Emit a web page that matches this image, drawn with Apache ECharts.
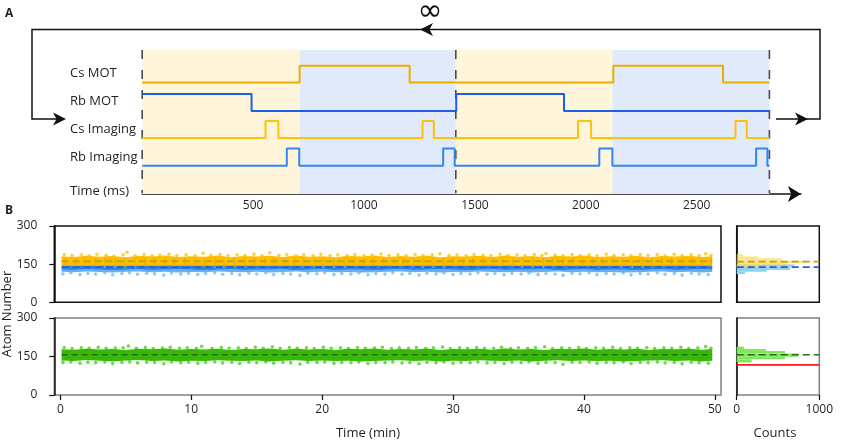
<!DOCTYPE html>
<html><head><meta charset="utf-8">
<script src="https://cdn.jsdelivr.net/npm/echarts@6/dist/echarts.min.js"></script>
<style>html,body{margin:0;padding:0;background:#fff}#c{width:842px;height:444px}</style>
</head><body><div id="c"></div>
<script>
// ---------------- Panel A data (ms) ----------------
const timeTicks = [500, 1000, 1500, 2000, 2500];
const cycleBounds = [0, 1414, 2828];
const phaseStart = [0, 710, 1414, 2121];
const phaseEnd = [710, 1414, 2121, 2828];
const phaseKind = ['cs', 'rb', 'cs', 'rb'];
const csMotT = [0, 710, 1206, 2124, 2619, 2828];
const csMotS = [0, 1, 0, 1, 0, 0];
const rbMotT = [0, 493, 1416, 1902, 2828];
const rbMotS = [1, 0, 1, 0, 0];
const csImgT = [0, 556, 614, 1264, 1315, 1965, 2024, 2675, 2726, 2828];
const csImgS = [0, 1, 0, 1, 0, 1, 0, 1, 0, 0];
const rbImgT = [0, 652, 708, 1357, 1409, 2061, 2120, 2768, 2819, 2828];
const rbImgS = [0, 1, 0, 1, 0, 1, 0, 1, 0, 0];
const laneNames = ['Cs MOT', 'Rb MOT', 'Cs Imaging', 'Rb Imaging', 'Time (ms)'];

// ---------------- Panel B data ----------------
const minTicks = [0, 10, 20, 30, 40, 50];
const atomTicks = [0, 150, 300];
const countTicks = [0, 1000];
const envT = [0.1,1,2,3,4,5,6,7,8,9,10,11,12,13,14,15,16,17,18,19,20,21,22,23,24,25,26,27,28,29,30,31,32,33,34,35,36,37,38,39,40,41,42,43,44,45,46,47,48,49,49.8];
const csTop = [181,178,183,179,182,177,183,180,184,178,181,179,184,177,182,180,183,178,184,179,181,177,183,180,184,178,182,179,184,177,181,180,183,178,184,179,182,177,183,180,184,178,181,179,183,177,182,180,183,178,181];
const csBot = [145,145,145,145,145,145,145,145,145,145,145,145,145,145,145,145,145,145,145,145,145,145,145,145,145,145,145,145,145,145,145,145,145,145,145,145,145,145,145,145,145,145,145,145,145,145,145,145,145,145,145];
const rbTop = csBot;
const rbMid = [128,127,129,128,126,128,129,127,128,129,128,126,128,129,127,128,128,129,126,128,129,127,128,128,126,128,129,127,128,129,128,126,128,129,127,128,128,129,126,128,129,127,128,128,126,128,129,127,128,129,128];
const rbBot = [120,118,121,119,117,120,121,118,120,117,119,118,121,119,118,120,117,119,121,118,120,118,119,117,118,120,121,118,120,117,119,118,121,119,118,120,117,119,121,118,120,118,119,117,118,120,121,118,120,117,119];
const grTop = [178,176,180,177,179,175,180,178,181,176,179,177,180,175,179,178,181,176,180,177,179,175,180,178,181,176,179,177,181,175,179,178,180,176,181,177,179,175,180,178,181,176,179,177,180,175,179,178,180,176,179];
const grBot = [134,132,136,133,131,134,136,132,134,131,133,132,135,133,132,134,131,133,135,132,134,132,133,131,132,134,135,132,134,131,133,132,135,133,132,134,131,133,135,132,134,132,133,131,132,134,135,132,134,131,133];
const csOut = [[0.3,188],[0.9,184],[1.6,187],[2.2,183],[2.8,189],[3.5,185],[4.1,182],[4.8,187],[5.1,197],[5.7,184],[6.4,188],[7.0,183],[7.6,186],[8.3,189],[8.9,184],[9.6,187],[10.3,183],[10.9,193],[11.5,185],[12.2,188],[12.8,183],[13.5,187],[14.1,184],[14.8,189],[15.4,183],[16.0,195],[16.7,185],[17.3,188],[18.0,183],[18.6,187],[19.3,184],[19.9,189],[20.6,183],[21.2,187],[21.9,184],[22.5,188],[23.2,183],[23.8,186],[24.5,190],[25.1,184],[25.8,187],[26.4,183],[27.1,188],[27.7,184],[28.4,187],[29.0,191],[29.7,184],[30.3,187],[31.0,183],[31.6,188],[32.3,185],[32.9,183],[33.6,189],[34.2,184],[34.9,187],[35.5,183],[36.2,188],[36.8,184],[37.1,192],[37.8,185],[38.4,183],[39.1,188],[39.7,184],[40.4,187],[41.0,183],[41.7,189],[42.3,184],[43.0,187],[43.6,183],[44.3,188],[44.9,184],[45.6,187],[46.2,183],[46.9,189],[47.5,184],[48.2,187],[48.8,183],[49.3,191],[49.7,185]];
const rbOut = [[0.2,112],[0.8,116],[1.5,109],[2.1,114],[2.7,111],[3.4,116],[4.0,108],[4.7,113],[5.3,116],[5.9,110],[6.6,114],[7.2,112],[7.9,107],[8.5,115],[9.2,111],[9.8,114],[10.5,109],[11.1,113],[11.8,116],[12.4,110],[13.1,113],[13.7,108],[14.4,114],[15.0,111],[15.7,116],[16.3,109],[17.0,113],[17.6,111],[18.3,106],[18.9,114],[19.6,112],[20.2,116],[20.9,109],[21.5,113],[22.2,111],[22.8,115],[23.5,108],[24.1,113],[24.8,111],[25.4,116],[26.1,110],[26.7,113],[27.4,107],[28.0,114],[28.7,111],[29.3,115],[30.0,109],[30.6,113],[31.3,111],[31.9,116],[32.6,110],[33.2,113],[33.9,108],[34.5,114],[35.2,111],[35.8,115],[36.5,109],[37.1,113],[37.8,111],[38.4,106],[39.1,114],[39.7,112],[40.4,116],[41.0,109],[41.7,113],[42.3,111],[43.0,115],[43.6,108],[44.3,113],[44.9,111],[45.6,116],[46.2,110],[46.9,113],[47.5,107],[48.2,114],[48.8,111],[49.5,109]];
const grOutHi = [[0.3,185],[0.9,181],[1.6,184],[2.2,182],[2.9,186],[3.5,182],[4.2,183],[4.8,184],[5.2,191],[5.8,182],[6.5,185],[7.1,181],[7.8,183],[8.4,186],[9.1,182],[9.7,184],[10.4,182],[10.8,190],[11.6,182],[12.3,185],[12.9,182],[13.6,184],[14.2,181],[14.9,186],[15.5,182],[16.2,188],[16.8,182],[17.5,185],[18.1,182],[18.8,184],[19.4,181],[20.1,186],[20.7,182],[21.4,184],[22.0,181],[22.7,185],[23.3,182],[24.0,183],[24.6,186],[25.3,181],[25.9,184],[26.6,182],[27.2,185],[27.9,181],[28.5,184],[29.2,187],[29.8,181],[30.5,184],[31.1,182],[31.8,185],[32.4,182],[33.1,182],[33.7,186],[34.4,181],[35.0,184],[35.7,182],[36.3,185],[37.0,188],[37.6,181],[38.3,184],[38.9,182],[39.6,185],[40.2,181],[40.9,184],[41.5,182],[42.2,186],[42.8,181],[43.5,184],[44.1,182],[44.8,185],[45.4,181],[46.1,184],[46.7,182],[47.4,186],[48.0,181],[48.7,184],[49.3,189],[49.7,182]];
const grOutLo = [[0.2,127],[0.8,129],[1.5,124],[2.1,128],[2.7,126],[3.4,129],[4.0,123],[4.7,127],[5.3,129],[5.9,125],[6.6,128],[7.2,127],[7.9,122],[8.5,129],[9.2,126],[9.8,128],[10.5,124],[11.1,127],[11.8,129],[12.4,125],[13.1,127],[13.7,123],[14.4,128],[15.0,126],[15.7,129],[16.3,124],[17.0,127],[17.6,126],[18.3,121],[18.9,128],[19.6,127],[20.2,129],[20.9,124],[21.5,127],[22.2,126],[22.8,129],[23.5,123],[24.1,127],[24.8,126],[25.4,129],[26.1,125],[26.7,127],[27.4,122],[28.0,128],[28.7,126],[29.3,129],[30.0,124],[30.6,127],[31.3,126],[31.9,129],[32.6,125],[33.2,127],[33.9,123],[34.5,128],[35.2,126],[35.8,129],[36.5,124],[37.1,127],[37.8,126],[38.4,120],[39.1,128],[39.7,127],[40.4,129],[41.0,124],[41.7,127],[42.3,126],[43.0,129],[43.6,123],[44.3,127],[44.9,126],[45.6,129],[46.2,125],[46.9,127],[47.5,122],[48.2,128],[48.8,126],[49.5,124]];
// Cs binned error-bar marks along the mean (time in min; span in atoms)
const csBarT = [0.4,1.2,1.9,2.7,3.4,4.2,4.9,5.7,6.5,7.2,8.0,8.7,9.5,10.3,11.0,11.8,12.5,13.3,14.1,14.8,15.6,16.3,17.1,17.9,18.6,19.4,20.1,20.9,21.7,22.4,23.2,23.9,24.7,25.5,26.2,27.0,27.7,28.5,29.3,30.0,30.8,31.5,32.3,33.1,33.8,34.6,35.3,36.1,36.9,37.6,38.4,39.1,39.9,40.7,41.4,42.2,42.9,43.7,44.5,45.2,46.0,46.7,47.5,48.3,49.0,49.7];
const csBarLo = 135, csBarHi = 174;
const csMean = 161, rbMean = 138, grMean = 157, redLevel = 117;
// histograms: bin low, bin high, counts
const csBinLo = [180, 173, 163, 155, 147, 139];
const csBinHi = [189, 180, 173, 163, 155, 147];
const csCount = [73, 258, 545, 820, 620, 250];
const rbBinLo = [140, 127, 120, 111];
const rbBinHi = [149, 140, 127, 120];
const rbCount = [700, 645, 363, 100];
const grBinLo = [179, 171, 162, 149, 139, 127];
const grBinHi = [188, 179, 171, 162, 149, 139];
const grCount = [88, 355, 585, 745, 585, 181];

// ---------------- styles / layout ----------------
const FONT = 'Open Sans';
const TXT = '#231f20';
const lanes = [
  {low: 32.5, high: 15.7, color: '#e9ae00'},
  {low: 61, high: 44, color: '#1c5fe5'},
  {low: 88, high: 71, color: '#ffc10a'},
  {low: 115.7, high: 98.5, color: '#3186f2'}
];
const laneLabelY = [73.3, 101, 129, 157, 191];
const signals = [[csMotT, csMotS], [rbMotT, rbMotS], [csImgT, csImgS], [rbImgT, rbImgS]];

const chart = echarts.init(document.getElementById('c'), null, {renderer: 'canvas'});

const gridA = {left: 142.2, top: 50, width: 658.7, height: 144};
const grids = [
  gridA,
  {left: 54.3, top: 226, width: 666.7, height: 76.3, show: true, borderColor: '#111', borderWidth: 1.5, backgroundColor: 'transparent'},
  {left: 54.3, top: 318, width: 666.7, height: 77, show: true, borderColor: '#808080', borderWidth: 1.5, backgroundColor: 'transparent'},
  {left: 736.7, top: 226, width: 82.6, height: 76.3, show: true, borderColor: '#111', borderWidth: 1.5, backgroundColor: 'transparent'},
  {left: 736.7, top: 318, width: 82.6, height: 77, show: true, borderColor: '#808080', borderWidth: 1.5, backgroundColor: 'transparent'}
];

const plain = v => String(v);
const lblStyle = {fontFamily: FONT, fontSize: 12, color: TXT, formatter: plain};
const xAxes = [
  {gridIndex: 0, type: 'value', min: 0, max: 2970, position: 'bottom',
    axisLine: {show: true, onZero: false, lineStyle: {color: '#111', width: 1.5}, symbol: ['none', 'arrow'], symbolSize: [12, 13]},
    axisTick: {show: true, inside: true, length: 6, customValues: timeTicks, lineStyle: {color: '#111', width: 1.5}},
    axisLabel: Object.assign({customValues: timeTicks, margin: 6}, lblStyle), splitLine: {show: false}},
  {gridIndex: 1, type: 'value', min: -0.46, max: 50.47, axisLine: {show: false}, axisTick: {show: false}, axisLabel: {show: false}, splitLine: {show: false}},
  {gridIndex: 2, type: 'value', min: -0.46, max: 50.47, position: 'bottom', axisLine: {show: false, onZero: false},
    axisTick: {show: true, length: 5, customValues: minTicks, lineStyle: {color: '#111', width: 1.2}},
    axisLabel: Object.assign({customValues: minTicks, margin: 9}, lblStyle), splitLine: {show: false}},
  {gridIndex: 3, type: 'value', min: 0, max: 1000, axisLine: {show: false}, axisTick: {show: false}, axisLabel: {show: false}, splitLine: {show: false}},
  {gridIndex: 4, type: 'value', min: 0, max: 1000, position: 'bottom', axisLine: {show: false, onZero: false},
    axisTick: {show: true, length: 5, customValues: countTicks, lineStyle: {color: '#111', width: 1.2}},
    axisLabel: Object.assign({customValues: countTicks, margin: 9}, lblStyle), splitLine: {show: false}}
];
const yAtom = (g) => ({gridIndex: g, type: 'value', min: 0, max: 300, position: 'left',
  axisLine: {show: true, onZero: false, lineStyle: {color: '#111', width: 1.5}},
  axisTick: {show: true, length: 5, customValues: atomTicks, lineStyle: {color: '#111', width: 1.2}},
  axisLabel: Object.assign({customValues: atomTicks, margin: 17}, lblStyle), splitLine: {show: false}});
const yHist = (g) => ({gridIndex: g, type: 'value', min: 0, max: 300, position: 'left',
  axisLine: {show: true, onZero: false, lineStyle: {color: '#111', width: 1.5}}, axisTick: {show: false}, axisLabel: {show: false}, splitLine: {show: false}});
const yAxes = [
  {gridIndex: 0, type: 'value', min: 0, max: 144, inverse: true, show: false},
  yAtom(1), yAtom(2), yHist(3), yHist(4)
];

const series = [];
// shading
series.push({type: 'custom', xAxisIndex: 0, yAxisIndex: 0, z: 1, silent: true,
  data: phaseStart.map((s, i) => [s, phaseEnd[i], phaseKind[i] === 'cs' ? 0 : 1]),
  encode: {x: [0, 1]},
  renderItem: (p, api) => {
    const a = api.coord([api.value(0), 0]);
    const b = api.coord([api.value(1), 144]);
    return {type: 'rect', shape: {x: a[0], y: Math.min(a[1], b[1]), width: b[0] - a[0], height: Math.abs(b[1] - a[1])},
      style: {fill: api.value(2) === 0 ? '#fef5da' : '#e0eafb'}};
  }});
// dividers
series.push({type: 'custom', xAxisIndex: 0, yAxisIndex: 0, z: 3, silent: true,
  data: cycleBounds.map(t => [t]), encode: {x: 0},
  renderItem: (p, api) => {
    const a = api.coord([api.value(0), 0]);
    const b = api.coord([api.value(0), 143]);
    return {type: 'line', shape: {x1: a[0], y1: a[1], x2: b[0], y2: b[1]},
      style: {stroke: '#4a4a4a', lineWidth: 1.6, lineDash: [9, 11]}};
  }});
// signals
signals.forEach((sg, k) => {
  const ln = lanes[k];
  series.push({type: 'line', xAxisIndex: 0, yAxisIndex: 0, z: 5, step: 'end', showSymbol: false, silent: true,
    data: sg[0].map((t, i) => [t, sg[1][i] ? ln.high : ln.low]),
    lineStyle: {color: ln.color, width: 2}});
});

// bands for scatter clouds
function band(xi, bottom, top, color, z, opacity) {
  return {type: 'custom', xAxisIndex: xi, yAxisIndex: xi, z: z, silent: true,
    data: [[envT[0], bottom[0]]], encode: {x: 0, y: 1},
    renderItem: (p, api) => {
      const pts = [];
      envT.forEach((t, i) => pts.push(api.coord([t, top[i]])));
      for (let i = envT.length - 1; i >= 0; i--) pts.push(api.coord([envT[i], bottom[i]]));
      return {type: 'polygon', shape: {points: pts}, style: {fill: color, opacity: opacity == null ? 1 : opacity}};
    }};
}
function dots(xi, data, color, z, size) {
  return {type: 'scatter', xAxisIndex: xi, yAxisIndex: xi, z: z, silent: true, symbolSize: size || 3.2,
    data: data, itemStyle: {color: color, opacity: 0.85}};
}
function hline(xi, x0, x1, y, color, width, dash, z) {
  return {type: 'line', xAxisIndex: xi, yAxisIndex: xi, z: z, silent: true, showSymbol: false,
    data: [[x0, y], [x1, y]], lineStyle: {color: color, width: width, type: dash}};
}
series.push(dots(1, csOut, '#ffc72a', 4, 3.6));
series.push(band(1, csBot, csTop, '#ffbf00', 5));
series.push(dots(1, rbOut, '#7cc2f7', 4, 3.6));
series.push(band(1, rbBot, rbMid, '#63b0f4', 6));
series.push(band(1, rbMid, rbTop, '#2f80ef', 6));
series.push({type: 'custom', xAxisIndex: 1, yAxisIndex: 1, z: 7, silent: true,
  data: csBarT.map(t => [t, csBarLo, csBarHi]), encode: {x: 0, y: [1, 2]},
  renderItem: (p, api) => {
    const a = api.coord([api.value(0), api.value(1)]);
    const b = api.coord([api.value(0), api.value(2)]);
    return {type: 'line', shape: {x1: a[0], y1: a[1], x2: b[0], y2: b[1]},
      style: {stroke: '#d8b400', lineWidth: 1.4, opacity: 0.85}};
  }});
series.push(hline(1, 0.1, 49.8, csMean, '#d49f00', 2, [7, 4], 8));
series.push(hline(1, 0.1, 49.8, rbMean, '#1f5fd6', 1.5, [7, 4], 8));

series.push(dots(2, grOutHi, '#55d32c', 4, 3.6));
series.push(dots(2, grOutLo, '#55d32c', 4, 3.6));
series.push(band(2, grBot, grTop, '#36b907', 5));
series.push(hline(2, 0.1, 49.8, grMean, '#2a6b1a', 1.4, [6, 4], 8));

// histograms
function hist(xi, lo, hi, cnt, color, opacity, z) {
  return {type: 'custom', xAxisIndex: xi, yAxisIndex: xi, z: z, silent: true,
    data: lo.map((l, i) => [l, hi[i], cnt[i]]), encode: {y: [0, 1], x: 2},
    renderItem: (p, api) => {
      const a = api.coord([0, api.value(1)]);
      const b = api.coord([api.value(2), api.value(0)]);
      return {type: 'rect', shape: {x: a[0], y: a[1], width: b[0] - a[0], height: b[1] - a[1]},
        style: {fill: color, opacity: opacity}};
    }};
}
series.push(hist(3, rbBinLo, rbBinHi, rbCount, '#8fd2f7', 1, 4));
series.push(hist(3, csBinLo, csBinHi, csCount, '#fbd84e', 0.7, 5));
series.push(hline(3, 0, 1000, 160, '#c9a000', 1.8, [7, 4], 8));
series.push(hline(3, 0, 1000, rbMean, '#1f5fe0', 1.8, [7, 4], 8));
series.push(hist(4, grBinLo, grBinHi, grCount, '#7fe85a', 1, 4));
series.push(hline(4, 0, 1000, grMean, '#2a6b1a', 1.6, [7, 4], 8));
series.push(hline(4, 0, 1000, redLevel, '#ff1a1a', 1.8, 'solid', 8));

// graphics: labels, loop arrows
const graphics = [];
const T = (x, y, text, opt) => Object.assign({type: 'text', x: x, y: y, z: 100,
  style: Object.assign({text: text, fill: TXT, font: '13px "' + FONT + '"', align: 'left', verticalAlign: 'middle'}, opt || {})});
laneNames.forEach((n, i) => graphics.push(T(70, laneLabelY[i], n)));
graphics.push(T(5, 14, 'A', {font: 'bold 12px "' + FONT + '"'}));
graphics.push(T(5, 211, 'B', {font: 'bold 12px "' + FONT + '"'}));
graphics.push(T(430, 12, '\u221E', {font: '30px "DejaVu Sans"', align: 'center', fill: '#111'}));
graphics.push(T(368, 433, 'Time (min)', {align: 'center'}));
graphics.push(T(775, 433, 'Counts', {align: 'center'}));
graphics.push(Object.assign(T(7, 314, 'Atom Number', {align: 'center'}), {rotation: Math.PI / 2}));
graphics.push({type: 'polyline', z: 100, shape: {points: [[776, 119], [820, 119], [820, 29.5], [32, 29.5], [32, 119], [60, 119]]},
  style: {stroke: '#111', lineWidth: 1.5, fill: null}});
const arrow = (pts) => ({type: 'polygon', z: 101, shape: {points: pts}, style: {fill: '#111'}});
graphics.push(arrow([[66, 119], [53, 112.5], [56.5, 119], [53, 125.5]]));
graphics.push(arrow([[808, 119], [795, 112.5], [798.5, 119], [795, 125.5]]));
graphics.push(arrow([[420, 29.5], [433, 23], [429.5, 29.5], [433, 36]]));

chart.setOption({
  animation: false,
  backgroundColor: '#fff',
  textStyle: {fontFamily: FONT},
  grid: grids, xAxis: xAxes, yAxis: yAxes, series: series, graphic: graphics
});
</script></body></html>
